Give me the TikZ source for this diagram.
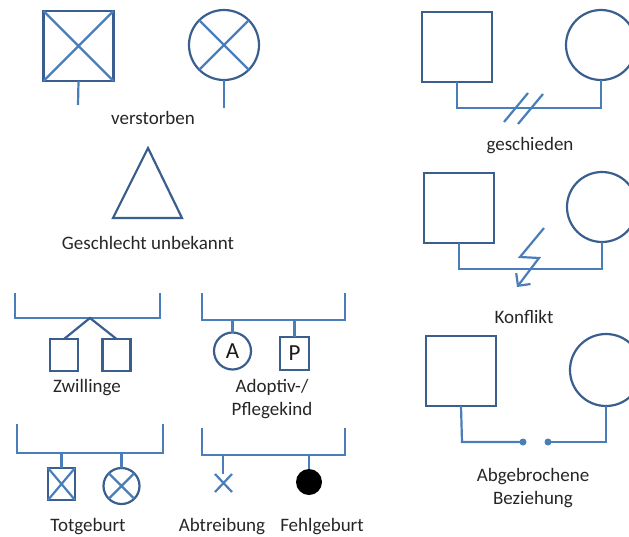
\documentclass[tikz,border=0pt]{standalone}
\usepackage{fontspec}
\setmainfont{Carlito}
\usetikzlibrary{arrows.meta}
\definecolor{lineblue}{HTML}{4A7EBB}
\definecolor{shapeblue}{HTML}{3A5F8F}
\begin{document}
\begin{tikzpicture}[x=1pt,y=-1pt,
  conn/.style={draw=lineblue,line width=2.2pt},
  sq/.style={draw=shapeblue,line width=2.2pt,rectangle,inner sep=0pt,outer sep=0pt,minimum width=70pt,minimum height=70pt},
  ci/.style={draw=shapeblue,line width=2.2pt,circle,inner sep=0pt,outer sep=0pt,minimum size=70pt},
  lbl/.style={font=\fontsize{19}{23}\selectfont,text=black!85,align=center,inner sep=0pt},
  biglbl/.style={font=\fontsize{23}{26}\selectfont,text=black!90,inner sep=0pt},
  dotn/.style={circle,fill=lineblue,inner sep=0pt,minimum size=7pt}]
\useasboundingbox (0,0) rectangle (629,536);
\clip (0,0) rectangle (629,536);

% verstorben
\node[sq] (vsq) at (78.5,46) {};
\draw[conn] (vsq.north west) -- (vsq.south east) (vsq.north east) -- (vsq.south west);
\coordinate (vsqe) at (78,105);
\draw[conn] (vsq.south) -- (vsqe);
\node[ci] (vci) at (224,45) {};
\draw[conn] (vci.45) -- (vci.225) (vci.135) -- (vci.315);
\coordinate (vcie) at (224,108);
\draw[conn] (vci.south) -- (vcie);
\node[lbl] (vlab) at (153,118) {verstorben};

% Geschlecht unbekannt
\coordinate (ta) at (148,148);
\coordinate (tl) at (113,218);
\coordinate (tr) at (182,218);
\draw[draw=shapeblue,line width=2.2pt,line join=miter] (ta) -- (tl) -- (tr) -- cycle;
\node[lbl] (tlab) at (148,243) {Geschlecht unbekannt};

% geschieden
\node[sq] (gsq) at (457,47) {};
\node[ci] (gci) at (601,45) {};
\coordinate (gl) at (457,108);
\coordinate (gr) at (601,108);
\draw[conn] (gsq.south) -- (gl) -- (gr) -- (gci.south);
\coordinate (s1a) at (504,122); \coordinate (s1b) at (528,93);
\coordinate (s2a) at (518,124); \coordinate (s2b) at (543,94);
\draw[conn] (s1a) -- (s1b) (s2a) -- (s2b);
\node[lbl] (glab) at (530,146) {geschieden};

% Konflikt
\node[sq] (ksq) at (459,208) {};
\node[ci] (kci) at (602,207) {};
\coordinate (kl) at (459,269);
\coordinate (kr) at (602,269);
\draw[conn] (ksq.south) -- (kl) -- (kr) -- (kci.south);
\coordinate (z1) at (544,228); \coordinate (z2) at (520,257);
\coordinate (z3) at (539,258); \coordinate (z4) at (517,287);
\draw[conn,line join=miter,-{Straight Barb[length=9pt,width=18pt]}] (z1) -- (z2) -- (z3) -- (z4);
\node[lbl] (klab) at (524,317) {Konflikt};

% Abgebrochene Beziehung
\node[sq] (asq) at (461,371) {};
\node[ci,minimum size=72pt] (aci) at (606,370) {};
\coordinate (al) at (462,442);
\node[dotn] (ad1) at (523,442) {};
\node[dotn] (ad2) at (548,442) {};
\coordinate (ar) at (606,442);
\draw[conn] (asq.south) -- (al) -- (ad1.center);
\draw[conn] (ad2.center) -- (ar) -- (aci.south);
\node[lbl] (alab) at (533,488.5) {Abgebrochene\\Beziehung};

% Zwillinge
\coordinate (zb1) at (15,293); \coordinate (zb2) at (15,318);
\coordinate (zb3) at (160,318); \coordinate (zb4) at (160,293);
\draw[conn] (zb1) -- (zb2) -- (zb3) -- (zb4);
\coordinate (zfork) at (90,318);
\node[sq,minimum width=28pt,minimum height=32pt] (zs1) at (64,355) {};
\node[sq,minimum width=28pt,minimum height=32pt] (zs2) at (116.5,355) {};
\draw[draw=shapeblue,line width=2.2pt] (zs1.north) -- (zfork) -- (zs2.north);
\node[lbl] (zlab) at (87,388) {Zwillinge};

% Totgeburt
\coordinate (tb1) at (17,424); \coordinate (tb2) at (17,453);
\coordinate (tb3) at (163,453); \coordinate (tb4) at (163,424);
\draw[conn] (tb1) -- (tb2) -- (tb3) -- (tb4);
\node[sq,minimum width=27pt,minimum height=32pt] (ts) at (61.5,484) {};
\draw[conn] (ts.north west) -- (ts.south east) (ts.north east) -- (ts.south west);
\node[ci,minimum size=36pt] (tc) at (121.5,486) {};
\draw[conn] (tc.45) -- (tc.225) (tc.135) -- (tc.315);
\coordinate (tsa) at (61.5,453); \coordinate (tca) at (121.5,453);
\draw[conn] (tsa) -- (ts.north) (tca) -- (tc.north);
\node[lbl] (totlab) at (88,527) {Totgeburt};

% Adoptiv-/Pflegekind
\coordinate (pb1) at (202,293); \coordinate (pb2) at (202,320);
\coordinate (pb3) at (345,320); \coordinate (pb4) at (345,293);
\draw[conn] (pb1) -- (pb2) -- (pb3) -- (pb4);
\node[ci,minimum size=37pt,biglbl,draw=shapeblue,line width=2.2pt] (pa) at (232.5,351) {A};
\node[sq,minimum width=29pt,minimum height=33pt,biglbl,draw=shapeblue,line width=2.2pt] (pp) at (294.5,353.5) {P};
\coordinate (paa) at (232.5,320); \coordinate (ppa) at (294.5,320);
\draw[conn] (paa) -- (pa.north) (ppa) -- (pp.north);
\node[lbl] (plab) at (272,399.5) {Adoptiv-/\\Pflegekind};

% Abtreibung / Fehlgeburt
\coordinate (fb1) at (202,428); \coordinate (fb2) at (202,455);
\coordinate (fb3) at (345,455); \coordinate (fb4) at (345,428);
\draw[conn] (fb1) -- (fb2) -- (fb3) -- (fb4);
\coordinate (xa) at (223,455); \coordinate (xb) at (223,474);
\draw[conn] (xa) -- (xb);
\coordinate (x1) at (215,474); \coordinate (x2) at (232,492);
\coordinate (x3) at (232,474); \coordinate (x4) at (215,492);
\draw[conn] (x1) -- (x2) (x3) -- (x4);
\node[circle,fill=black,inner sep=0pt,minimum size=26pt] (fd) at (309,482) {};
\coordinate (fda) at (309,455);
\draw[conn] (fda) -- (fd.north);
\node[lbl] (ablab) at (222,527) {Abtreibung};
\node[lbl] (felab) at (322,527) {Fehlgeburt};
\end{tikzpicture}
\end{document}
